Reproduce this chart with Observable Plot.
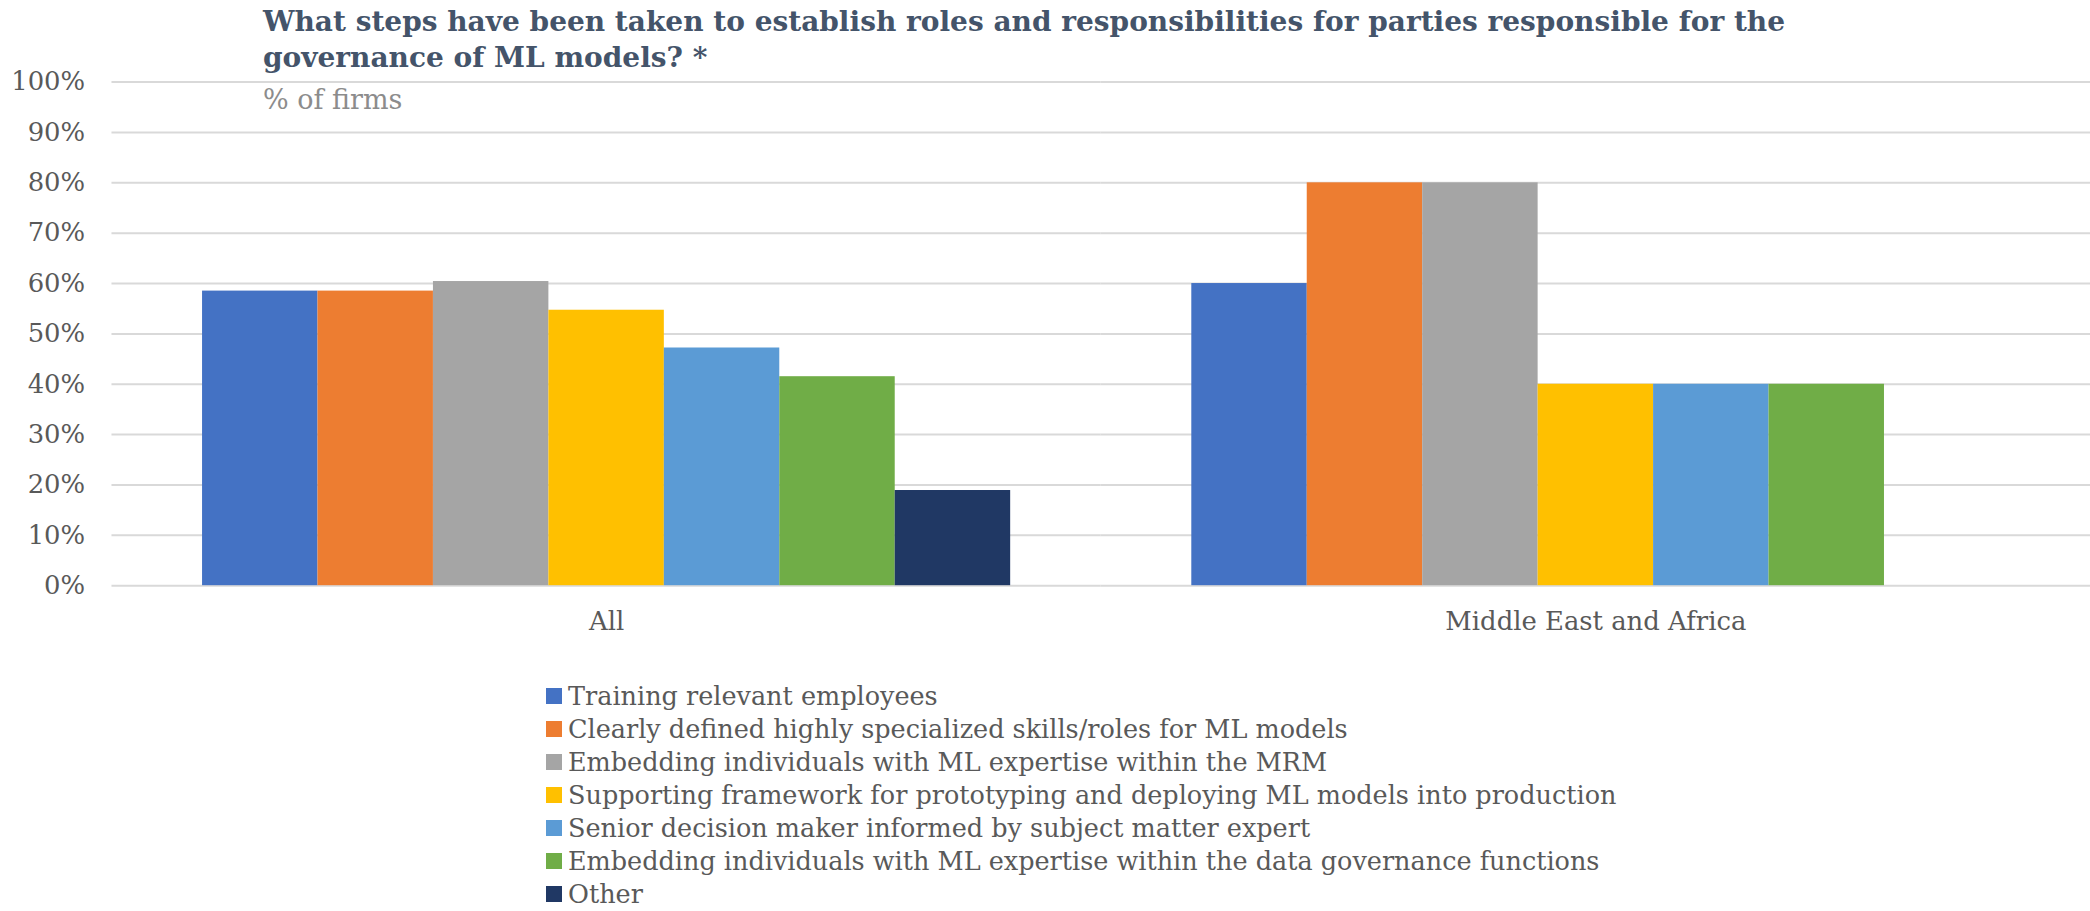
<!DOCTYPE html>
<html><head><meta charset="utf-8">
<script src="https://cdn.jsdelivr.net/npm/d3@7"></script>
<script src="https://cdn.jsdelivr.net/npm/@observablehq/plot@0.6"></script>
<style>
html,body{margin:0;padding:0;background:#fff;overflow:hidden;width:2090px;height:911px}
#wrap{position:relative;width:2090px;height:911px;overflow:hidden;font-family:"DejaVu Serif",serif}
#chart{position:absolute;left:0;top:0}
#title{position:absolute;left:263px;top:4px;font-weight:bold;color:#44546a;font-size:28px;line-height:36px;white-space:nowrap}
#subtitle{position:absolute;left:263px;top:83px;color:#8c8c8c;font-size:27px;line-height:34px;white-space:nowrap}
#legend{position:absolute;left:546px;top:679px}
.row{display:flex;align-items:center;height:33px;font-size:25.5px;line-height:22px;color:#595959;white-space:nowrap}
.sw{width:16px;height:16px;margin-right:6px;flex:none}
</style>
</head><body>
<div id="wrap">
  <div id="chart"></div>
  <div id="title">What steps have been taken to establish roles and responsibilities for parties responsible for the<br>governance of ML models? *</div>
  <div id="subtitle">% of firms</div>
  <div id="legend"></div>
</div>
<script>
const groups = ["All", "Middle East and Africa"];
const series = [
  "Training relevant employees",
  "Clearly defined highly specialized skills/roles for ML models",
  "Embedding individuals with ML expertise within the MRM",
  "Supporting framework for prototyping and deploying ML models into production",
  "Senior decision maker informed by subject matter expert",
  "Embedding individuals with ML expertise within the data governance functions",
  "Other"
];
const colors = ["#4472c4", "#ed7d31", "#a5a5a5", "#ffc000", "#5b9bd5", "#70ad47", "#203864"];
const allValues = [58.5, 58.5, 60.4, 54.7, 47.2, 41.5, 18.9];
const meaValues = [60, 80, 80, 40, 40, 40, 0];
const yTicks = [0, 10, 20, 30, 40, 50, 60, 70, 80, 90, 100];

const data = [];
series.forEach((s, i) => {
  data.push({group: groups[0], series: s, value: allValues[i]});
  data.push({group: groups[1], series: s, value: meaValues[i]});
});

const chart = Plot.plot({
  width: 2100,
  height: 660,
  marginLeft: 111,
  marginRight: 0,
  marginTop: 82,
  marginBottom: 72,
  style: {fontFamily: "DejaVu Serif, serif", fontSize: "26px", color: "#595959", background: "transparent"},
  fx: {domain: groups, padding: 0, label: null, tickSize: 0, tickPadding: 26, axis: "bottom"},
  x: {domain: series, paddingInner: 0, paddingOuter: 0.75, axis: null},
  y: {domain: [0, 100], ticks: yTicks, tickFormat: d => d + "%", tickSize: 0, tickPadding: 27, label: null},
  color: {domain: series, range: colors},
  marks: [
    Plot.gridY(yTicks, {stroke: "#d9d9d9", strokeOpacity: 1, strokeWidth: 2}),
    Plot.barY(data.filter(d => d.value > 0), {fx: "group", x: "series", y: "value", fill: "series", inset: 0})
  ]
});
document.getElementById("chart").appendChild(chart);

const legend = document.getElementById("legend");
series.forEach((s, i) => {
  const row = document.createElement("div");
  row.className = "row";
  const sw = document.createElement("span");
  sw.className = "sw";
  sw.style.background = colors[i];
  const t = document.createElement("span");
  t.textContent = s;
  row.appendChild(sw); row.appendChild(t);
  legend.appendChild(row);
});
</script>
</body></html>
